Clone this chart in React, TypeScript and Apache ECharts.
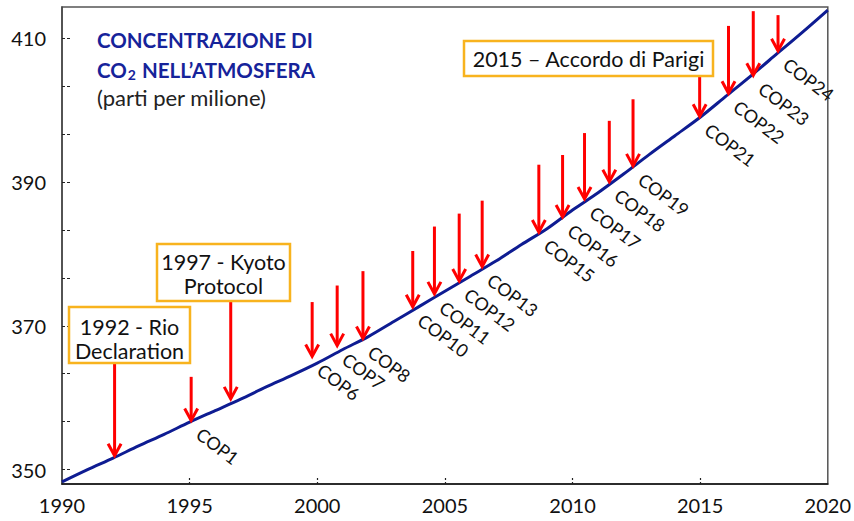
import React, { useEffect, useRef } from "react";
import * as echarts from "echarts";

// CO2 curve (ppm), one value per year
const years = [1990, 1991, 1992, 1993, 1994, 1995, 1996, 1997, 1998, 1999, 2000, 2001, 2002, 2003, 2004, 2005, 2006, 2007, 2008, 2009, 2010, 2011, 2012, 2013, 2014, 2015, 2016, 2017, 2018, 2019, 2020];
const co2 = [348.3, 350.0, 351.6, 353.3, 354.9, 356.6, 358.2, 359.8, 361.5, 363.1, 364.8, 366.7, 368.5, 370.6, 372.7, 374.8, 376.9, 379.0, 381.3, 383.5, 386.1, 388.5, 391.1, 393.8, 396.4, 399.0, 401.9, 404.8, 407.8, 410.8, 413.9];

// Arrows: x position (year), tip value (on the curve), top value
const arrowYears = [1992.06, 1995.06, 1996.61, 1999.8, 2000.78, 2001.79, 2003.74, 2004.59, 2005.56, 2006.46, 2008.68, 2009.61, 2010.47, 2011.44, 2012.37, 2014.98, 2016.11, 2017.08, 2018.05];
const arrowTips = [351.8, 356.7, 359.7, 365.6, 367.1, 368.1, 372.5, 374.3, 376.1, 378.1, 382.9, 385.0, 387.5, 389.9, 392.1, 399.0, 402.2, 404.7, 408.1];
const arrowTops = [364.9, 362.9, 373.5, 373.3, 375.6, 377.6, 380.4, 383.8, 385.6, 387.4, 392.4, 393.75, 396.8, 398.5, 401.5, 405.8, 411.7, 413.75, 413.2];
const arrowLabels = ["", "COP1", "", "COP6", "COP7", "COP8", "COP10", "COP11", "COP12", "COP13", "COP15", "COP16", "COP17", "COP18", "COP19", "COP21", "COP22", "COP23", "COP24"];

// Axis ticks / labels
const xLabelValues = [1990, 1995, 2000, 2005, 2010, 2015, 2020];
const xTickValues = [1995, 2000, 2005, 2010, 2015];
const yLabelValues = [350, 370, 390, 410];
const yTickValues = [350, 356.667, 363.333, 370, 376.667, 383.333, 390, 396.667, 403.333, 410];

const FONT = "Lato, 'Open Sans', sans-serif";
const ORANGE = "#F8B31E";
const RED = "#FF0000";
const NAVY = "#0E1C92";
const TITLE_BLUE = "#16239A";

export default function App() {
  const ref = useRef<HTMLDivElement>(null);

  useEffect(() => {
    document.body.style.margin = "0";
    const chart = echarts.init(ref.current!, null, { renderer: "svg" });

    const curveData = years.map((y, i) => [y, co2[i]]);
    const arrowData = arrowYears.map((y, i) => [y, arrowTips[i], arrowTops[i]]);

    const box = (x: number, y: number, w: number, h: number, lines: string[], lineYs: number[]) => ({
      type: "group",
      children: [
        {
          type: "rect",
          shape: { x, y, width: w, height: h },
          style: { fill: "#fff", stroke: ORANGE, lineWidth: 2.5 },
          z: 100,
        },
        ...lines.map((t, i) => ({
          type: "text",
          x: x + w / 2,
          y: lineYs[i],
          z: 101,
          style: {
            text: t,
            fill: "#111",
            font: `21.5px ${FONT}`,
            align: "center",
            verticalAlign: "middle",
          },
        })),
      ],
    });

    const option: any = {
      animation: false,
      grid: {
        left: 62,
        right: 21,
        top: 7,
        bottom: 37,
        show: true,
        borderColor: "#555",
        borderWidth: 1.5,
      },
      xAxis: {
        type: "value",
        min: 1990,
        max: 2020,
        interval: 5,
        axisLine: { show: true, lineStyle: { color: "#111", width: 1.5 } },
        axisTick: {
          show: true,
          inside: true,
          length: 7,
          customValues: xTickValues,
          lineStyle: { color: "#222", width: 1.2, type: [2, 2] },
        },
        axisLabel: {
          customValues: xLabelValues,
          formatter: (v: number) => String(v),
          fontSize: 20,
          fontFamily: FONT,
          color: "#111",
          margin: 11,
        },
        splitLine: { show: false },
      },
      yAxis: {
        type: "value",
        min: 348,
        max: 414.33,
        axisLine: { show: true, lineStyle: { color: "#444", width: 1.5 } },
        axisTick: {
          show: true,
          inside: true,
          length: 8,
          customValues: yTickValues,
          lineStyle: { color: "#222", width: 1.2, type: [3, 2] },
        },
        axisLabel: {
          customValues: yLabelValues,
          formatter: (v: number) => String(v),
          fontSize: 20,
          fontFamily: FONT,
          color: "#111",
          margin: 16,
        },
        splitLine: { show: false },
      },
      series: [
        {
          type: "line",
          data: curveData,
          showSymbol: false,
          smooth: 0.3,
          lineStyle: { color: NAVY, width: 3 },
          z: 2,
        },
        {
          type: "custom",
          coordinateSystem: "cartesian2d",
          data: arrowData,
          encode: { x: 0, y: [1, 2] },
          clip: false,
          z: 3,
          renderItem: (params: any, api: any) => {
            const x = api.value(0);
            const tip = api.value(1);
            const top = api.value(2);
            const p1 = api.coord([x, top]);
            const p2 = api.coord([x, tip]);
            const children: any[] = [
              {
                type: "line",
                shape: { x1: p1[0], y1: p1[1], x2: p2[0], y2: p2[1] - 1.5 },
                style: { stroke: RED, lineWidth: 3 },
              },
              {
                type: "polyline",
                shape: {
                  points: [
                    [p2[0] - 6.5, p2[1] - 13],
                    [p2[0], p2[1] - 1],
                    [p2[0] + 6.5, p2[1] - 13],
                  ],
                },
                style: { stroke: RED, lineWidth: 3, fill: "none" },
              },
            ];
            const label = arrowLabels[params.dataIndex];
            if (label) {
              children.push({
                type: "text",
                x: p2[0] + 13,
                y: p2[1] + 3,
                rotation: -0.646,
                style: {
                  text: label,
                  fill: "#111",
                  font: `18px ${FONT}`,
                  align: "left",
                  verticalAlign: "top",
                },
              });
            }
            return { type: "group", children };
          },
        },
      ],
      graphic: [
        {
          type: "text",
          left: 97,
          top: 29,
          style: {
            text: "CONCENTRAZIONE DI",
            fill: TITLE_BLUE,
            font: `bold 20.5px ${FONT}`,
          },
        },
        {
          type: "text",
          left: 97,
          top: 59,
          style: {
            text: "{a|CO}{s|2}{a| NELL\u2019ATMOSFERA}",
            fill: TITLE_BLUE,
            rich: {
              a: { fontWeight: "bold", fontSize: 20.5, fontFamily: FONT, fill: TITLE_BLUE },
              s: { fontWeight: "bold", fontSize: 14, fontFamily: FONT, fill: TITLE_BLUE, padding: [10, 1, 0, 1] },
            },
          },
        },
        {
          type: "text",
          left: 97,
          top: 86,
          style: {
            text: "(parti per milione)",
            fill: "#222",
            font: `22px ${FONT}`,
          },
        },
        box(69, 307, 121, 56, ["1992 - Rio", "Declaration"], [327, 351]),
        box(157, 244, 133, 57, ["1997 - Kyoto", "Protocol"], [262, 286]),
        box(464, 41, 249, 35, ["2015 \u2013 Accordo di Parigi"], [59]),
      ],
    };

    chart.setOption(option);
    return () => chart.dispose();
  }, []);

  return <div ref={ref} style={{ width: 854, height: 521 }} />;
}
